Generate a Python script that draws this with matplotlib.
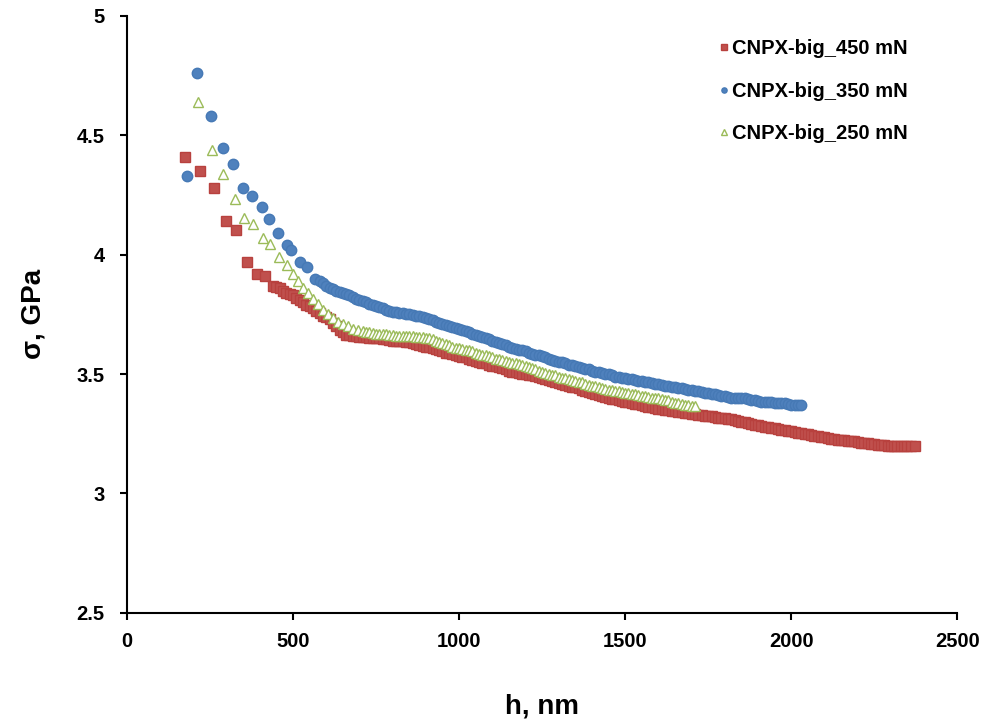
import matplotlib
matplotlib.use('Agg')
import matplotlib.pyplot as plt
from matplotlib.ticker import FuncFormatter

plt.rcParams['font.family'] = ['Liberation Sans', 'DejaVu Sans']
plt.rcParams['font.weight'] = 'bold'

# CNPX-big_450 mN  (depth h in nm, stress in GPa)
h_450 = [175, 220, 262, 298, 328, 361, 391, 416, 440,
         450, 460, 470, 480, 490, 500, 510, 520, 530, 540, 550, 560, 570, 580, 590, 600, 610, 620, 630, 640,
         650, 660, 670, 680, 690, 700, 710, 720, 730, 740, 750, 760, 770, 780, 790, 800, 810, 820, 830, 840,
         850, 860, 870, 880, 890, 900, 910, 920, 930, 940, 950, 960, 970, 980, 990, 1000, 1010, 1020, 1030, 1040,
         1050, 1060, 1070, 1080, 1090, 1100, 1110, 1120, 1130, 1140, 1150, 1160, 1170, 1180, 1190, 1200, 1210, 1220,
         1230, 1240, 1250, 1260, 1270, 1280, 1290, 1300, 1310, 1320, 1330, 1340, 1350, 1360, 1370, 1380, 1390, 1400,
         1410, 1420, 1430, 1440, 1450, 1460, 1470, 1480, 1490, 1500, 1510, 1520, 1530, 1540, 1550, 1560, 1570, 1580,
         1590, 1600, 1610, 1620, 1630, 1640, 1650, 1660, 1670, 1680, 1690, 1700, 1710, 1720, 1730, 1740, 1750, 1760,
         1770, 1780, 1790, 1800, 1810, 1820, 1830, 1840, 1850, 1860, 1870, 1880, 1890, 1900, 1910, 1920, 1930, 1940,
         1950, 1960, 1970, 1980, 1990, 2000, 2010, 2020, 2030, 2040, 2050, 2060, 2070, 2080, 2090, 2100, 2110, 2120,
         2130, 2140, 2150, 2160, 2170, 2180, 2190, 2200, 2210, 2220, 2230, 2240, 2250, 2260, 2270, 2280, 2290, 2300,
         2310, 2320, 2330, 2340, 2350, 2360, 2373]
s_450 = [4.41, 4.35, 4.28, 4.14, 4.105, 3.97, 3.92, 3.91, 3.87,
         3.865, 3.86, 3.85, 3.84, 3.835, 3.83, 3.82, 3.81, 3.80, 3.79, 3.785, 3.775, 3.765, 3.755, 3.745, 3.74, 3.73, 3.715, 3.70, 3.685,
         3.675, 3.665, 3.662, 3.66, 3.658, 3.656, 3.655, 3.655, 3.653, 3.65, 3.65, 3.65, 3.648, 3.645, 3.643, 3.64, 3.64, 3.64, 3.638, 3.635,
         3.633, 3.63, 3.625, 3.62, 3.618, 3.615, 3.612, 3.61, 3.605, 3.60, 3.595, 3.59, 3.588, 3.585, 3.58, 3.575, 3.572, 3.57, 3.565, 3.56,
         3.555, 3.55, 3.548, 3.545, 3.54, 3.535, 3.532, 3.53, 3.525, 3.52, 3.515, 3.51, 3.508, 3.505, 3.502, 3.50, 3.498, 3.495,
         3.492, 3.49, 3.485, 3.48, 3.476, 3.472, 3.468, 3.464, 3.46, 3.456, 3.452, 3.448, 3.444, 3.44, 3.435, 3.43, 3.425, 3.42,
         3.416, 3.412, 3.408, 3.404, 3.40, 3.397, 3.394, 3.391, 3.388, 3.385, 3.382, 3.379, 3.376, 3.373, 3.37, 3.367, 3.364, 3.361,
         3.358, 3.355, 3.353, 3.35, 3.348, 3.346, 3.345, 3.343, 3.34, 3.338, 3.336, 3.335, 3.333, 3.33, 3.328, 3.326, 3.325, 3.323,
         3.32, 3.318, 3.316, 3.315, 3.312, 3.31, 3.306, 3.303, 3.30, 3.298, 3.295, 3.29, 3.288, 3.285, 3.282, 3.28, 3.278, 3.276,
         3.275, 3.27, 3.268, 3.265, 3.262, 3.26, 3.258, 3.255, 3.253, 3.25, 3.248, 3.245, 3.242, 3.24, 3.238, 3.235, 3.233, 3.23,
         3.228, 3.226, 3.225, 3.223, 3.221, 3.22, 3.218, 3.215, 3.213, 3.211, 3.21, 3.208, 3.206, 3.205, 3.203, 3.202, 3.20, 3.20,
         3.20, 3.20, 3.20, 3.20, 3.20, 3.20, 3.20]

# CNPX-big_350 mN
h_350 = [181, 211, 253, 289, 319, 349, 376, 406, 428, 455, 482, 494, 521, 542, 566,
         580, 590, 600, 610, 620, 630, 640, 650, 660, 670, 680, 690, 700, 710, 720, 730, 740, 750, 760, 770,
         780, 790, 800, 810, 820, 830, 840, 850, 860, 870, 880, 890, 900, 910, 920, 930, 940, 950, 960, 970,
         980, 990, 1000, 1010, 1020, 1030, 1040, 1050, 1060, 1070, 1080, 1090, 1100, 1110, 1120, 1130, 1140, 1150,
         1160, 1170, 1180, 1190, 1200, 1210, 1220, 1230, 1240, 1250, 1260, 1270, 1280, 1290, 1300, 1310, 1320, 1330,
         1340, 1350, 1360, 1370, 1380, 1390, 1400, 1410, 1420, 1430, 1440, 1450, 1460, 1470, 1480, 1490, 1500, 1510,
         1520, 1530, 1540, 1550, 1560, 1570, 1580, 1590, 1600, 1610, 1620, 1630, 1640, 1650, 1660, 1670, 1680, 1690,
         1700, 1710, 1720, 1730, 1740, 1750, 1760, 1770, 1780, 1790, 1800, 1810, 1820, 1830, 1840, 1850, 1860, 1870,
         1880, 1890, 1900, 1910, 1920, 1930, 1940, 1950, 1960, 1970, 1980, 1990, 2000, 2010, 2020, 2030]
s_350 = [4.33, 4.76, 4.58, 4.445, 4.38, 4.28, 4.245, 4.20, 4.15, 4.09, 4.04, 4.02, 3.97, 3.95, 3.90,
         3.89, 3.88, 3.87, 3.86, 3.855, 3.85, 3.845, 3.84, 3.835, 3.83, 3.822, 3.815, 3.81, 3.805, 3.80, 3.795, 3.79, 3.785, 3.78, 3.775,
         3.77, 3.765, 3.762, 3.76, 3.758, 3.755, 3.752, 3.75, 3.748, 3.745, 3.742, 3.74, 3.735, 3.73, 3.725, 3.72, 3.715, 3.71, 3.705, 3.70,
         3.698, 3.695, 3.69, 3.685, 3.68, 3.675, 3.67, 3.665, 3.66, 3.655, 3.65, 3.645, 3.64, 3.635, 3.63, 3.625, 3.62, 3.615,
         3.61, 3.605, 3.602, 3.60, 3.595, 3.59, 3.585, 3.58, 3.578, 3.575, 3.57, 3.565, 3.56, 3.555, 3.552, 3.55, 3.545, 3.54,
         3.538, 3.535, 3.53, 3.525, 3.522, 3.52, 3.515, 3.51, 3.508, 3.505, 3.502, 3.50, 3.495, 3.49, 3.488, 3.485, 3.482, 3.48,
         3.478, 3.475, 3.472, 3.47, 3.468, 3.465, 3.462, 3.46, 3.458, 3.455, 3.452, 3.45, 3.448, 3.445, 3.442, 3.44, 3.438, 3.435,
         3.432, 3.43, 3.428, 3.425, 3.422, 3.42, 3.418, 3.415, 3.412, 3.41, 3.408, 3.405, 3.402, 3.40, 3.40, 3.40, 3.398, 3.395,
         3.392, 3.39, 3.388, 3.385, 3.385, 3.385, 3.382, 3.38, 3.38, 3.38, 3.378, 3.375, 3.372, 3.37, 3.37, 3.37]

# CNPX-big_250 mN
h_250 = [214, 256, 289, 325, 352, 380, 410, 431, 458, 482, 500,
         515, 530, 545, 560, 575, 590, 605, 620, 635, 650, 665, 680, 695,
         710, 720, 730, 740, 750, 760, 770, 780, 790, 800, 810, 820, 830, 840, 850, 860, 870, 880, 890, 900,
         910, 920, 930, 940, 950, 960, 970, 980, 990, 1000, 1010, 1020, 1030, 1040, 1050, 1060, 1070, 1080, 1090,
         1100, 1110, 1120, 1130, 1140, 1150, 1160, 1170, 1180, 1190, 1200, 1210, 1220, 1230, 1240, 1250, 1260, 1270,
         1280, 1290, 1300, 1310, 1320, 1330, 1340, 1350, 1360, 1370, 1380, 1390, 1400, 1410, 1420, 1430, 1440, 1450,
         1460, 1470, 1480, 1490, 1500, 1510, 1520, 1530, 1540, 1550, 1560, 1570, 1580, 1590, 1600, 1610, 1620, 1630,
         1640, 1650, 1660, 1670, 1680, 1690, 1700, 1710]
s_250 = [4.64, 4.44, 4.34, 4.235, 4.155, 4.13, 4.07, 4.045, 3.99, 3.955, 3.92,
         3.89, 3.86, 3.84, 3.815, 3.795, 3.77, 3.75, 3.735, 3.72, 3.71, 3.70, 3.69, 3.683,
         3.68, 3.677, 3.675, 3.672, 3.67, 3.67, 3.67, 3.668, 3.665, 3.662, 3.66, 3.66, 3.66, 3.66, 3.66, 3.658, 3.655, 3.655, 3.655, 3.652,
         3.65, 3.645, 3.64, 3.635, 3.63, 3.625, 3.62, 3.615, 3.61, 3.608, 3.605, 3.602, 3.60, 3.595, 3.59, 3.585, 3.58, 3.578, 3.575,
         3.57, 3.565, 3.562, 3.56, 3.555, 3.55, 3.548, 3.545, 3.542, 3.54, 3.535, 3.53, 3.525, 3.52, 3.515, 3.51, 3.505, 3.50,
         3.498, 3.495, 3.49, 3.485, 3.482, 3.48, 3.475, 3.47, 3.468, 3.465, 3.46, 3.455, 3.452, 3.45, 3.445, 3.44, 3.438, 3.435,
         3.432, 3.43, 3.428, 3.425, 3.422, 3.42, 3.418, 3.415, 3.412, 3.41, 3.408, 3.405, 3.402, 3.40, 3.398, 3.395, 3.392, 3.39,
         3.385, 3.38, 3.378, 3.375, 3.372, 3.37, 3.368, 3.365]

labels = ['CNPX-big_450 mN', 'CNPX-big_350 mN', 'CNPX-big_250 mN']
x_ticks = [0, 500, 1000, 1500, 2000, 2500]
y_ticks = [2.5, 3, 3.5, 4, 4.5, 5]

fig = plt.figure(figsize=(9.92, 7.27), dpi=100)
ax = fig.add_axes([0.128, 0.157, 0.837, 0.821])

ax.plot(h_450, s_450, 's', color='#C0504D', ms=7.5, mec='#B8413E', label=labels[0])
ax.plot(h_350, s_350, 'o', color='#4F81BD', ms=7.5, mec='#4679B5', label=labels[1])
ax.plot(h_250, s_250, '^', color='white', ms=7.5, mec='#9BBB59', mew=1.0, label=labels[2])

ax.set_xlim(0, 2500)
ax.set_ylim(2.5, 5)
ax.set_xticks(x_ticks)
ax.set_yticks(y_ticks)
ax.yaxis.set_major_formatter(FuncFormatter(lambda v, p: '%g' % v))
ax.tick_params(direction='out', length=5, width=1.5, labelsize=14.5)
ax.tick_params(axis='x', pad=9)
ax.tick_params(axis='y', pad=11)
for lab in ax.get_xticklabels() + ax.get_yticklabels():
    lab.set_fontweight('bold')

ax.spines['top'].set_visible(False)
ax.spines['right'].set_visible(False)
ax.spines['left'].set_linewidth(1.5)
ax.spines['bottom'].set_linewidth(1.5)

ax.set_xlabel('h, nm', fontsize=20, fontweight='bold')
ax.set_ylabel('σ, GPa', fontsize=20, fontweight='bold')
ax.xaxis.set_label_coords(0.5, -0.135)
ax.yaxis.set_label_coords(-0.097, 0.5)

ax.legend(loc='upper left', bbox_to_anchor=(0.703, 0.975), frameon=False,
          markerscale=0.5, handlelength=0.5, handletextpad=0.15, labelspacing=1.18,
          borderaxespad=0, prop={'weight': 'bold', 'size': 14.5})

fig.savefig('out.png', dpi=100)
